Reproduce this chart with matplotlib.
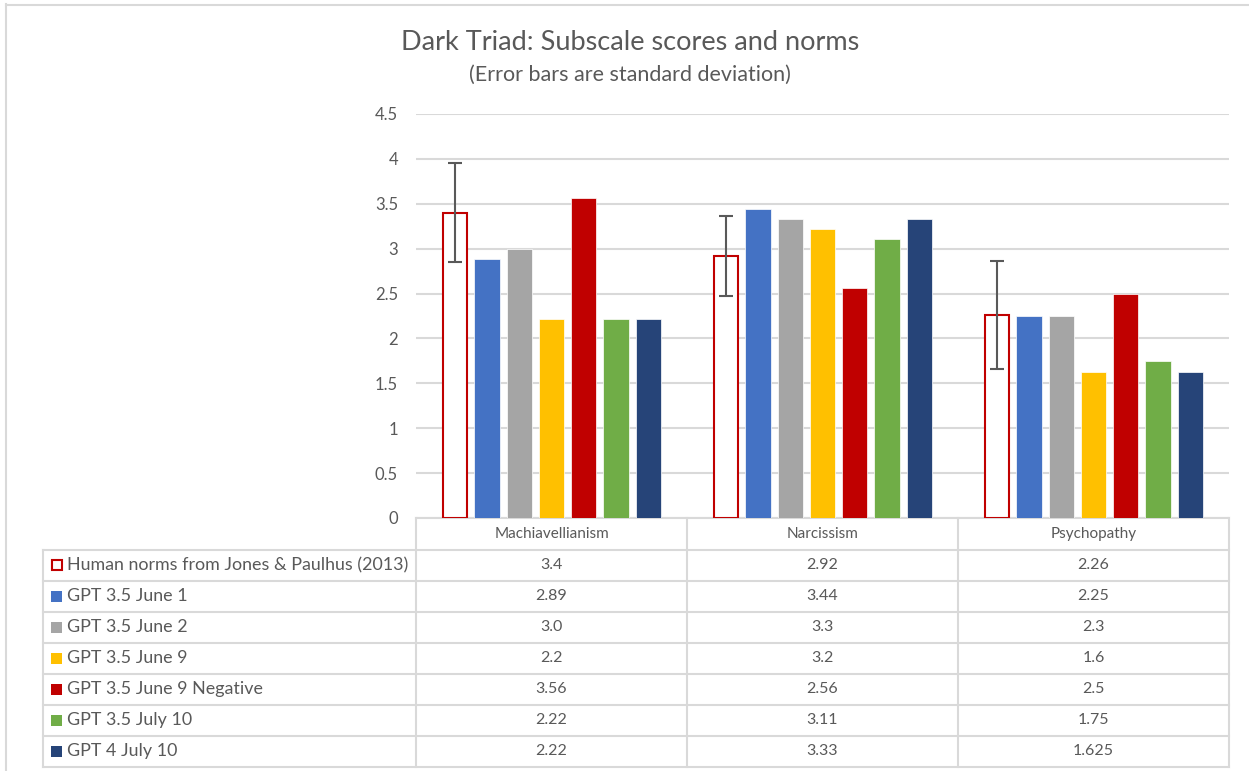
import matplotlib
matplotlib.use("Agg")
import matplotlib.pyplot as plt
import matplotlib.transforms as mtransforms
from matplotlib.patches import Rectangle
from decimal import Decimal, ROUND_HALF_UP
import numpy as np

# Data
categories = ["Machiavellianism", "Narcissism", "Psychopathy"]
series_names = [
    "Human norms from Jones & Paulhus (2013)",
    "GPT 3.5 June 1",
    "GPT 3.5 June 2",
    "GPT 3.5 June 9",
    "GPT 3.5 June 9 Negative",
    "GPT 3.5 July 10",
    "GPT 4 July 10",
]
human_norms = [3.4, 2.92, 2.26]
human_sd = [0.55, 0.445, 0.6]
gpt35_june1 = [2.89, 3.44, 2.25]
gpt35_june2 = [3.0, 3.33, 2.25]
gpt35_june9 = [2.22, 3.22, 1.625]
gpt35_june9_neg = [3.56, 2.56, 2.5]
gpt35_july10 = [2.22, 3.11, 1.75]
gpt4_july10 = [2.22, 3.33, 1.625]
# number format used in the data table for each row (None = general)
row_decimals = [None, None, 1, 1, None, None, None]

series_values = [human_norms, gpt35_june1, gpt35_june2, gpt35_june9,
                 gpt35_june9_neg, gpt35_july10, gpt4_july10]
colors = ["#C00000", "#4472C4", "#A5A5A5", "#FFC000", "#C00000", "#70AD47", "#264478"]

W, H = 1249, 771
GRID = "#D9D9D9"
TXT = "#595959"
FONT = ["Lato", "DejaVu Sans"]


def fx(px):
    return px / W


def fy(py):
    return 1 - py / H


def fmt(v, dec):
    # Excel style rounding (half up)
    if dec is None:
        return f"{v:g}"
    q = Decimal(str(v)).quantize(Decimal(1).scaleb(-dec), rounding=ROUND_HALF_UP)
    return str(q)


fig = plt.figure(figsize=(W / 100, H / 100), dpi=100)
plt.rcParams["font.family"] = FONT

# outer chart border
fig.add_artist(plt.Line2D([fx(6), fx(6)], [fy(4), fy(771)], color=GRID, lw=1.5))
fig.add_artist(plt.Line2D([fx(6), fx(1249)], [fy(4.5), fy(4.5)], color=GRID, lw=1.5))

ax = fig.add_axes([fx(416), fy(518), fx(1229) - fx(416), fy(114) - fy(518)])
ax.set_xlim(-0.5, len(categories) - 0.5)
ax.set_ylim(0, 4.5)
ax.set_yticks(np.arange(0, 4.51, 0.5))
ax.set_yticklabels([f"{t:g}" for t in np.arange(0, 4.51, 0.5)])
ax.set_xticks([])
ax.tick_params(axis="y", length=0, pad=13, labelsize=12, labelcolor=TXT)
for s in ax.spines.values():
    s.set_visible(False)
ax.yaxis.grid(True, color=GRID, lw=1.5)
ax.set_axisbelow(True)

x = np.arange(len(categories))
step = 0.119
width = 0.094
for i, vals in enumerate(series_values):
    pos = x + (i - 3) * step
    if i == 0:
        ax.bar(pos, vals, width=width - 0.006, color="white", edgecolor=colors[i],
               linewidth=1.5, zorder=3)
        ax.errorbar(pos, vals, yerr=human_sd, fmt="none", ecolor="#595959",
                    elinewidth=1.5, capsize=5, capthick=1.5, zorder=4)
    else:
        ax.bar(pos, vals, width=width, color=colors[i], edgecolor="white",
               linewidth=0.5, zorder=3)

# data table below the axes
bt = mtransforms.blended_transform_factory(ax.transData, fig.transFigure)
edges = np.arange(len(categories) + 1) - 0.5
row_top = 549.5
row_h = 31.05
n_rows = len(series_names)
bottom = row_top + n_rows * row_h

# category header row borders
ax.plot([edges[0], edges[-1]], [fy(518), fy(518)], transform=bt, color=GRID,
        lw=1.5, clip_on=False)
for e in edges:
    ax.plot([e, e], [fy(518), fy(bottom)], transform=bt, color=GRID, lw=1.5,
            clip_on=False)
for j, cat in enumerate(categories):
    ax.text(x[j], fy((518 + row_top) / 2), cat, transform=bt, ha="center",
            va="center", fontsize=11, color=TXT)

# row lines
for r in range(n_rows + 1):
    yy = fy(row_top + r * row_h)
    fig.add_artist(plt.Line2D([fx(43), fx(1229)], [yy, yy], color=GRID, lw=1.5))
fig.add_artist(plt.Line2D([fx(43), fx(43)], [fy(row_top), fy(bottom)], color=GRID, lw=1.5))

for r, name in enumerate(series_names):
    yc = row_top + (r + 0.5) * row_h
    if r == 0:
        fig.add_artist(Rectangle((fx(51.5), fy(yc + 5)), fx(10), fy(0) - fy(10.5),
                                 facecolor="white", edgecolor=colors[r], lw=1.5))
    else:
        fig.add_artist(Rectangle((fx(51), fy(yc + 5.5)), fx(11), fy(0) - fy(11),
                                 facecolor=colors[r], edgecolor="none"))
    fig.text(fx(67), fy(yc), name, ha="left", va="center", fontsize=12.9, color=TXT)
    for j in range(len(categories)):
        ax.text(x[j], fy(yc), fmt(series_values[r][j], row_decimals[r]), transform=bt,
                ha="center", va="center", fontsize=11.5, color=TXT)

# titles
fig.text(fx(630), fy(43), "Dark Triad: Subscale scores and norms", ha="center",
         va="center", fontsize=19.5, color=TXT)
fig.text(fx(630), fy(75), "(Error bars are standard deviation)", ha="center",
         va="center", fontsize=15.5, color=TXT)

fig.savefig("out.png", dpi=100)
